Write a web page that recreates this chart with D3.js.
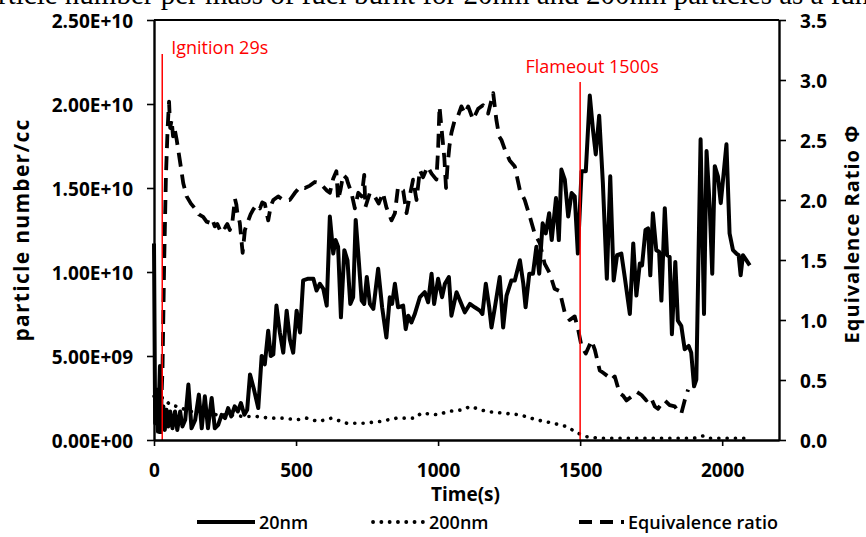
<!DOCTYPE html>
<html>
<head>
<meta charset="utf-8">
<script src="https://cdn.jsdelivr.net/npm/d3@7"></script>
<style>
  body { margin: 0; background: #fff; }
  svg { display: block; }
</style>
</head>
<body>
<svg id="chart" width="866" height="537"></svg>
<script>
// ---- data -------------------------------------------------------------
// 20 nm particle number concentration (units of 1e10 particles/cc) vs time (s)
const time20 = [0,4,9,14,21,27,33,38,44,50,57,65,74,82,92,100,110,121,132,145,158,168,179,190,203,214,226,238,250,261,272,284,295,306,318,328,338,352,367,379,390,402,411,420,431,443,455,467,478,490,502,514,525,543,561,572,584,596,608,619,631,639,648,658,670,681,691,701,710,719,731,740,749,760,772,789,803,818,830,838,848,859,877,886,895,906,918,936,953,965,977,986,1000,1014,1024,1038,1047,1065,1082,1094,1112,1129,1147,1156,1168,1180,1188,1200,1217,1229,1241,1258,1270,1288,1300,1308,1321,1334,1346,1356,1368,1379,1391,1400,1415,1425,1434,1446,1458,1470,1481,1492,1505,1520,1534,1545,1555,1567,1580,1594,1606,1618,1630,1645,1657,1675,1687,1698,1710,1718,1730,1739,1747,1756,1768,1778,1786,1798,1806,1815,1823,1835,1844,1856,1868,1882,1891,1901,1909,1924,1936,1945,1956,1965,1974,1985,1995,2003,2015,2026,2038,2050,2058,2065,2073,2085,2097];
const count20 = [1.17,0.10,0.30,0.05,0.44,0.12,0.20,0.06,0.18,0.08,0.17,0.07,0.17,0.06,0.17,0.08,0.12,0.33,0.07,0.12,0.27,0.07,0.26,0.07,0.25,0.07,0.09,0.15,0.13,0.19,0.14,0.20,0.17,0.22,0.15,0.18,0.39,0.30,0.19,0.50,0.45,0.65,0.50,0.51,0.80,0.64,0.52,0.77,0.60,0.52,0.77,0.64,0.95,0.96,0.96,0.89,0.93,0.90,0.80,1.33,1.11,1.19,1.15,0.73,1.13,1.07,0.81,0.85,1.31,1.11,0.83,0.81,0.97,0.81,0.78,1.02,0.79,0.61,0.85,0.81,0.93,0.79,0.80,0.66,0.74,0.70,0.75,0.85,0.88,0.82,0.99,0.81,0.96,0.85,0.93,0.97,0.74,0.88,0.81,0.76,0.81,0.79,0.77,0.75,0.93,0.79,0.67,0.79,0.97,0.67,0.86,0.95,0.95,1.07,0.93,0.79,0.99,0.99,1.15,0.99,1.29,1.23,1.35,1.19,1.44,1.19,1.61,1.55,1.33,1.47,1.45,1.11,1.60,1.60,2.05,1.85,1.70,1.93,1.53,0.96,1.57,0.95,1.10,1.11,0.97,0.75,1.17,0.86,1.05,1.04,1.25,1.26,0.98,1.35,1.13,1.12,0.83,1.38,1.10,1.09,0.63,1.06,0.71,0.68,0.54,0.56,0.52,0.32,0.36,1.79,0.75,1.72,1.39,0.99,1.63,1.57,1.41,1.55,1.76,1.23,1.13,1.11,1.10,0.98,1.10,1.07,1.04];

// 200 nm particle number concentration (units of 1e10 particles/cc)
const time200 = [0,9,33,56,80,127,174,220,267,314,361,408,455,502,537,578,625,678,737,795,854,918,941,1000,1035,1088,1112,1170,1229,1288,1346,1405,1452,1493,1522,1569,1622,1700,1800,1900,1932,1950,2000,2091];
const count200 = [0.26,0.26,0.25,0.21,0.20,0.17,0.17,0.15,0.15,0.14,0.14,0.13,0.13,0.12,0.13,0.11,0.13,0.10,0.10,0.11,0.13,0.13,0.16,0.15,0.17,0.18,0.20,0.17,0.16,0.15,0.12,0.10,0.08,0.04,0.02,0.01,0.01,0.01,0.01,0.01,0.024,0.01,0.01,0.01];

// Equivalence ratio (right axis)
const timePhi = [22,30,36,42,48,53,57,62,67,72,80,91,103,115,130,144,158,173,185,197,205,214,223,232,241,250,258,267,276,285,290,293,302,312,320,332,340,349,361,373,381,390,402,411,420,437,455,478,496,514,531,549,566,584,596,608,619,631,642,648,656,666,678,683,695,707,719,731,740,744,760,777,791,806,818,836,848,859,877,889,900,912,924,936,947,963,977,994,1000,1005,1010,1016,1022,1028,1033,1040,1047,1059,1070,1082,1094,1106,1123,1141,1158,1176,1194,1205,1215,1223,1235,1252,1270,1288,1305,1323,1340,1358,1375,1393,1410,1428,1446,1463,1481,1493,1505,1520,1540,1552,1569,1581,1598,1610,1622,1639,1651,1663,1686,1700,1716,1733,1748,1763,1774,1786,1798,1815,1833,1845,1856,1868,1880];
const phi = [0.05,0.6,1.5,2.2,2.6,2.82,2.6,2.67,2.53,2.6,2.5,2.33,2.14,2.03,1.97,1.93,1.88,1.86,1.82,1.81,1.84,1.78,1.80,1.75,1.79,1.77,1.80,1.75,1.82,2.01,1.96,1.90,1.81,1.56,1.75,1.83,1.88,1.92,1.96,1.93,1.98,1.97,1.83,1.95,2.0,2.03,2.0,2.0,2.06,2.11,2.10,2.12,2.15,2.14,2.11,2.08,2.06,2.18,2.24,2.0,2.08,2.21,2.18,2.14,2.06,1.93,2.06,2.03,2.21,1.94,2.06,2.03,1.97,2.06,1.94,1.83,1.89,2.11,2.08,1.89,2.03,2.17,2.0,2.25,2.19,2.28,2.22,2.17,2.42,2.78,2.65,2.5,2.35,2.10,2.28,2.45,2.56,2.67,2.70,2.78,2.72,2.78,2.67,2.76,2.79,2.72,2.89,2.67,2.53,2.50,2.42,2.33,2.28,2.08,2.0,1.86,1.72,1.64,1.47,1.39,1.26,1.24,1.06,1.0,1.03,0.92,0.78,0.72,0.83,0.75,0.58,0.56,0.53,0.50,0.53,0.39,0.37,0.33,0.37,0.40,0.375,0.33,0.36,0.28,0.26,0.30,0.33,0.29,0.28,0.24,0.22,0.33,0.42];

// axis ticks and labels
const timeTicks = [0, 500, 1000, 1500, 2000];
const countTicks = [0, 0.5, 1.0, 1.5, 2.0, 2.5];
const countTickLabels = ["0.00E+00", "5.00E+09", "1.00E+10", "1.50E+10", "2.00E+10", "2.50E+10"];
const phiTicks = [0, 0.5, 1.0, 1.5, 2.0, 2.5, 3.0, 3.5];
const phiTickLabels = ["0.0", "0.5", "1.0", "1.5", "2.0", "2.5", "3.0", "3.5"];

// event markers
const eventTimes = [29, 1500];
const eventLabels = ["Ignition 29s", "Flameout 1500s"];

const seriesNames = ["20nm", "200nm", "Equivalence ratio"];
const caption = "Particle number per mass of fuel burnt for 20nm and 200nm particles as a function of time";

// ---- layout -------------------------------------------------------------
const svg = d3.select("#chart");
const plot = { left: 154, right: 779, top: 20, bottom: 440 };
const uiFont = "'Open Sans', Lato, sans-serif";

const x = d3.scaleLinear().domain([0, 2200]).range([plot.left, plot.right]);
const yL = d3.scaleLinear().domain([0, 2.5]).range([plot.bottom, plot.top]);
const yR = d3.scaleLinear().domain([0, 3.5]).range([plot.bottom, plot.top]);

// caption running off the top edge
const capFont = "'Liberation Serif', 'Times New Roman', serif";
const cap = svg.append("text")
  .attr("y", 4)
  .attr("font-family", capFont)
  .attr("font-size", 29)
  .attr("fill", "#000")
  .text(caption);
const probe = svg.append("text").attr("font-family", capFont).attr("font-size", 29).text("Pa");
cap.attr("x", -probe.node().getComputedTextLength() - 2);
probe.remove();

// ---- series -------------------------------------------------------------
const lineL = d3.line().x(d => x(d[0])).y(d => yL(d[1]));
const lineR = d3.line().x(d => x(d[0])).y(d => yR(d[1]));

svg.append("path")
  .datum(d3.zip(time200, count200))
  .attr("d", lineL)
  .attr("fill", "none")
  .attr("stroke", "#000")
  .attr("stroke-width", 3.6)
  .attr("stroke-linecap", "round")
  .attr("stroke-dasharray", "0.1,8.2");

svg.append("path")
  .datum(d3.zip(timePhi, phi))
  .attr("d", lineR)
  .attr("fill", "none")
  .attr("stroke", "#000")
  .attr("stroke-width", 3.8)
  .attr("stroke-linejoin", "round")
  .attr("stroke-dasharray", "14,8");

svg.append("path")
  .datum(d3.zip(time20, count20))
  .attr("d", lineL)
  .attr("fill", "none")
  .attr("stroke", "#000")
  .attr("stroke-width", 4)
  .attr("stroke-linejoin", "round");

// ---- event markers --------------------------------------------------------
const markerTop = [54, 82];
eventTimes.forEach((t, i) => {
  svg.append("line")
    .attr("x1", x(t)).attr("x2", x(t))
    .attr("y1", markerTop[i]).attr("y2", plot.bottom)
    .attr("stroke", "#ff0000").attr("stroke-width", 1.5);
});
svg.append("text")
  .attr("x", x(eventTimes[0]) + 9).attr("y", 54)
  .attr("font-family", uiFont).attr("font-size", 18).attr("fill", "#ff0000")
  .text(eventLabels[0]);
svg.append("text")
  .attr("x", x(eventTimes[1]) + 12).attr("y", 73)
  .attr("text-anchor", "middle")
  .attr("font-family", uiFont).attr("font-size", 18).attr("fill", "#ff0000")
  .text(eventLabels[1]);

// ---- frame and axes -------------------------------------------------------
svg.append("line")
  .attr("x1", plot.left).attr("x2", plot.right)
  .attr("y1", plot.top).attr("y2", plot.top)
  .attr("stroke", "#000").attr("stroke-width", 2);

function styleAxis(g) {
  g.select(".domain").attr("stroke", "#000").attr("stroke-width", 2.4);
  g.selectAll(".tick line").attr("stroke", "#000").attr("stroke-width", 1.6);
  g.selectAll(".tick text")
    .attr("font-family", uiFont).attr("font-weight", "bold")
    .attr("font-size", 19).attr("fill", "#000");
}

const xAxis = svg.append("g")
  .attr("transform", `translate(0,${plot.bottom})`)
  .call(d3.axisBottom(x).tickValues(timeTicks).tickFormat(d3.format("d")).tickSize(6).tickSizeOuter(0));
styleAxis(xAxis);
xAxis.selectAll(".tick text").attr("y", 30).attr("dy", null).attr("dominant-baseline", "central");

const yAxisL = svg.append("g")
  .attr("transform", `translate(${plot.left},0)`)
  .call(d3.axisLeft(yL).tickValues(countTicks).tickFormat((d, i) => countTickLabels[i]).tickSize(7).tickSizeOuter(0));
styleAxis(yAxisL);
yAxisL.selectAll(".tick text").attr("x", -21).attr("dy", null).attr("dominant-baseline", "central");

const yAxisR = svg.append("g")
  .attr("transform", `translate(${plot.right},0)`)
  .call(d3.axisRight(yR).tickValues(phiTicks).tickFormat((d, i) => phiTickLabels[i]).tickSize(7).tickSizeOuter(0));
styleAxis(yAxisR);
yAxisR.selectAll(".tick text").attr("x", 21).attr("dy", null).attr("dominant-baseline", "central");

// axis titles
svg.append("text")
  .attr("transform", `translate(21,${(plot.top + plot.bottom) / 2}) rotate(-90)`)
  .attr("text-anchor", "middle").attr("dominant-baseline", "central")
  .attr("font-family", uiFont).attr("font-weight", "bold").attr("font-size", 21)
  .attr("letter-spacing", 1.3)
  .text("particle number/cc");
svg.append("text")
  .attr("transform", `translate(851,${(plot.top + plot.bottom) / 2 + 4}) rotate(-90)`)
  .attr("text-anchor", "middle").attr("dominant-baseline", "central")
  .attr("font-family", uiFont).attr("font-weight", "bold").attr("font-size", 20)
  .attr("letter-spacing", 1)
  .text("Equivalence Ratio Φ");
svg.append("text")
  .attr("x", (plot.left + plot.right) / 2 - 1).attr("y", 494)
  .attr("text-anchor", "middle").attr("dominant-baseline", "central")
  .attr("font-family", uiFont).attr("font-weight", "bold").attr("font-size", 19)
  .text("Time(s)");

// ---- legend ---------------------------------------------------------------
const legendY = 522;
const legend = svg.append("g");
const legendItems = [
  { x0: 197, x1: 255, dash: null, cap: "butt" },
  { x0: 373, x1: 425, dash: "0.1,8.2", cap: "round" },
  { x0: 579, x1: 624, dash: "13,8", cap: "butt" }
];
legendItems.forEach((it, i) => {
  legend.append("line")
    .attr("x1", it.x0).attr("x2", it.x1).attr("y1", legendY).attr("y2", legendY)
    .attr("stroke", "#000").attr("stroke-width", 3.8)
    .attr("stroke-linecap", it.cap)
    .attr("stroke-dasharray", it.dash);
  legend.append("text")
    .attr("x", it.x1 + 4).attr("y", legendY)
    .attr("dominant-baseline", "central")
    .attr("font-family", uiFont).attr("font-weight", 600).attr("font-size", 18).attr("fill", "#000")
    .text(seriesNames[i]);
});
</script>
</body>
</html>
